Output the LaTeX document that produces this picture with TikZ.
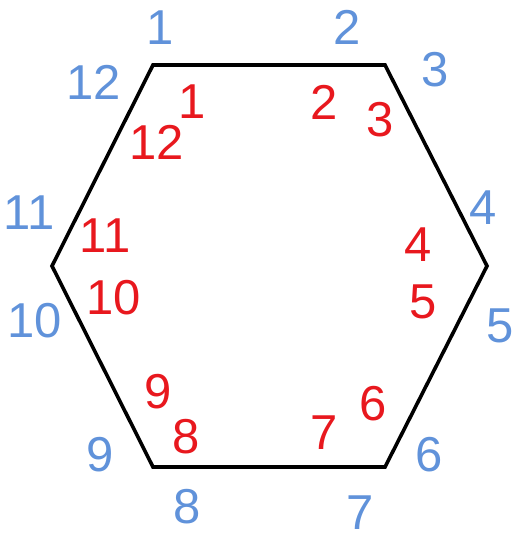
\documentclass[tikz,border=0pt]{standalone}
\usepackage{fontspec}
\setmainfont{Liberation Sans}
\definecolor{bl}{RGB}{96,146,218}
\definecolor{rd}{RGB}{232,24,30}
\begin{document}
\begin{tikzpicture}[x=1pt,y=-1pt,
  outer/.style={text=bl,inner sep=0pt,font=\fontsize{49}{49}\selectfont},
  inner/.style={text=rd,inner sep=0pt,font=\fontsize{49}{49}\selectfont}]
\useasboundingbox (0,0) rectangle (516,540);
\coordinate (v1) at (153,65);
\coordinate (v2) at (385,65);
\coordinate (v3) at (487,266);
\coordinate (v4) at (385,467);
\coordinate (v5) at (153,467);
\coordinate (v6) at (52,266);
\draw[line width=3.6pt,line join=miter] (v1) -- (v2) -- (v3) -- (v4) -- (v5) -- (v6) -- cycle;
% outer (blue) labels
\node[outer] (b1) at (160,28) {1};
\node[outer] (b2) at (347,27) {2};
\node[outer] (b3) at (435,70) {3};
\node[outer] (b4) at (483,208) {4};
\node[outer] (b5) at (500,326) {5};
\node[outer] (b6) at (429,455) {6};
\node[outer] (b7) at (360,513) {7};
\node[outer] (b8) at (187,507) {8};
\node[outer] (b9) at (100,455) {9};
\node[outer] (b10) at (35,321) {10};
\node[outer] (b11) at (29,213) {11};
\node[outer] (b12) at (94,82) {12};
% inner (red) labels
\node[inner] (r1) at (192,102) {1};
\node[inner] (r2) at (324,102) {2};
\node[inner] (r3) at (380,120) {3};
\node[inner] (r4) at (418,245) {4};
\node[inner] (r5) at (423,302) {5};
\node[inner] (r6) at (373,404) {6};
\node[inner] (r7) at (324,433) {7};
\node[inner] (r8) at (186,437) {8};
\node[inner] (r9) at (158,392) {9};
\node[inner] (r10) at (114,298) {10};
\node[inner] (r11) at (105,236) {11};
\node[inner] (r12) at (157,142) {12};
\end{tikzpicture}
\end{document}
